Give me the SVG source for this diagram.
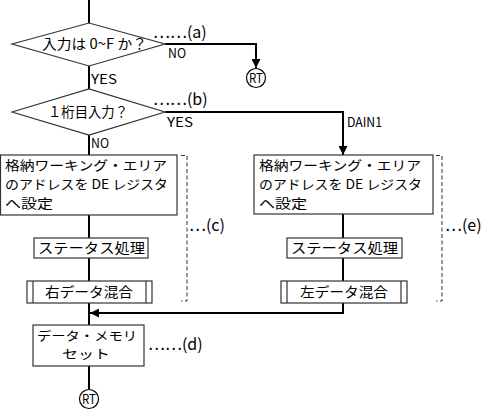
<svg xmlns="http://www.w3.org/2000/svg" width="489" height="411" viewBox="0 0 489 411">
<style>
text{font-family:"Noto Sans CJK JP","Noto Sans",sans-serif;fill:#000}
.t{font-size:14px}
.m{font-size:13px}
.k{font-size:12.4px}
.s{font-size:13px}
.n{font-size:16px}
.box{fill:#fff;stroke:#333;stroke-width:1.2}
.flow{fill:none;stroke:#000;stroke-width:2}
.br{fill:none;stroke:#333;stroke-width:1;stroke-dasharray:4 2.5}
.c{text-anchor:middle}
</style>
<defs>
<marker id="ah" viewBox="0 0 10 10" refX="10" refY="5" markerWidth="5" markerHeight="4.5" orient="auto" markerUnits="strokeWidth">
<path d="M0,0 L10,5 L0,10 z" fill="#000"/>
</marker>
</defs>
<g id="connectors">
<path class="flow" d="M89,0 V23"/>
<path class="flow" d="M89,66 V89"/>
<path class="flow" d="M165,44 H256 V68" marker-end="url(#ah)"/>
<path class="flow" d="M89,135 V155"/>
<path class="flow" d="M165,112 H343 V155" marker-end="url(#ah)"/>
<path class="flow" d="M89,215 V238 M89,258 V281 M89,303 V325"/>
<path class="flow" d="M343,214 V238 M343,258 V281"/>
<path class="flow" d="M343,303 V313 H90" marker-end="url(#ah)"/>
<path class="flow" d="M89,366 V389"/>
<text class="s" x="168" y="58" textLength="18" lengthAdjust="spacingAndGlyphs">NO</text>
<text class="s" x="91" y="84" textLength="26" lengthAdjust="spacingAndGlyphs">YES</text>
<text class="s" x="167" y="127" textLength="26" lengthAdjust="spacingAndGlyphs">YES</text>
<text class="s" x="347" y="127" textLength="35" lengthAdjust="spacingAndGlyphs">DAIN1</text>
<text class="s" x="91" y="148" textLength="18" lengthAdjust="spacingAndGlyphs">NO</text>
</g>
<g id="dec1">
<polygon class="box" points="12,44 89,23 165,44 89,66"/>
<text class="t" x="42" y="49" textLength="105" lengthAdjust="spacingAndGlyphs">入力は 0~F か？</text>
<text class="n" x="153" y="38">……(a)</text>
</g>
<g id="rt1">
<circle cx="256" cy="78" r="9.5" fill="#fff" stroke="#000" stroke-width="1.2"/>
<text class="s c" x="256" y="82.5" textLength="14" lengthAdjust="spacingAndGlyphs">RT</text>
</g>
<g id="dec2">
<polygon class="box" points="12,112 89,89 165,112 89,135"/>
<text class="t" x="48" y="117" textLength="80" lengthAdjust="spacingAndGlyphs">１桁目入力？</text>
<text class="n" x="153" y="105">……(b)</text>
</g>
<g id="setL">
<rect class="box" x="0.5" y="155" width="176.5" height="60"/>
<text class="m" x="5" y="170" textLength="162" lengthAdjust="spacingAndGlyphs">格納ワーキング・エリア</text>
<text class="m" x="5" y="189" textLength="163" lengthAdjust="spacingAndGlyphs">のアドレスを DE レジスタ</text>
<text class="m" x="5" y="208" textLength="48" lengthAdjust="spacingAndGlyphs">へ設定</text>
</g>
<g id="statL">
<rect class="box" x="34" y="238" width="114" height="20"/>
<text class="t" x="38" y="253" textLength="107" lengthAdjust="spacingAndGlyphs">ステータス処理</text>
</g>
<g id="mixR">
<rect class="box" x="27" y="281" width="125" height="22"/>
<path d="M33,281 V303 M146,281 V303" stroke="#333" stroke-width="1.2"/>
<text class="t" x="45" y="297" textLength="88" lengthAdjust="spacingAndGlyphs">右データ混合</text>
</g>
<g id="bracketC">
<path class="br" d="M181,155.5 H187 V301 H181"/>
<text class="n" x="189" y="231">…(c)</text>
</g>
<g id="setR">
<rect class="box" x="254" y="155" width="179" height="59"/>
<text class="m" x="259" y="170" textLength="162" lengthAdjust="spacingAndGlyphs">格納ワーキング・エリア</text>
<text class="m" x="259" y="189" textLength="163" lengthAdjust="spacingAndGlyphs">のアドレスを DE レジスタ</text>
<text class="m" x="259" y="208" textLength="48" lengthAdjust="spacingAndGlyphs">へ設定</text>
</g>
<g id="statR">
<rect class="box" x="287" y="238" width="115" height="20"/>
<text class="t" x="291" y="253" textLength="107" lengthAdjust="spacingAndGlyphs">ステータス処理</text>
</g>
<g id="mixL">
<rect class="box" x="281" y="281" width="126" height="22"/>
<path d="M287,281 V303 M401,281 V303" stroke="#333" stroke-width="1.2"/>
<text class="t" x="300" y="297" textLength="88" lengthAdjust="spacingAndGlyphs">左データ混合</text>
</g>
<g id="bracketE">
<path class="br" d="M436,155.5 H442 V301 H436"/>
<text class="n" x="445" y="231">…(e)</text>
</g>
<g id="mem">
<rect class="box" x="33" y="325" width="111" height="41"/>
<text class="k" x="37" y="341" textLength="100" lengthAdjust="spacingAndGlyphs">データ・メモリ</text>
<text class="k" x="62" y="359" textLength="48" lengthAdjust="spacingAndGlyphs">セット</text>
<text class="n" x="148" y="350">……(d)</text>
</g>
<g id="rt2">
<circle cx="89" cy="399" r="9.5" fill="#fff" stroke="#000" stroke-width="1.2"/>
<text class="s c" x="89" y="403.5" textLength="14" lengthAdjust="spacingAndGlyphs">RT</text>
</g>
</svg>
